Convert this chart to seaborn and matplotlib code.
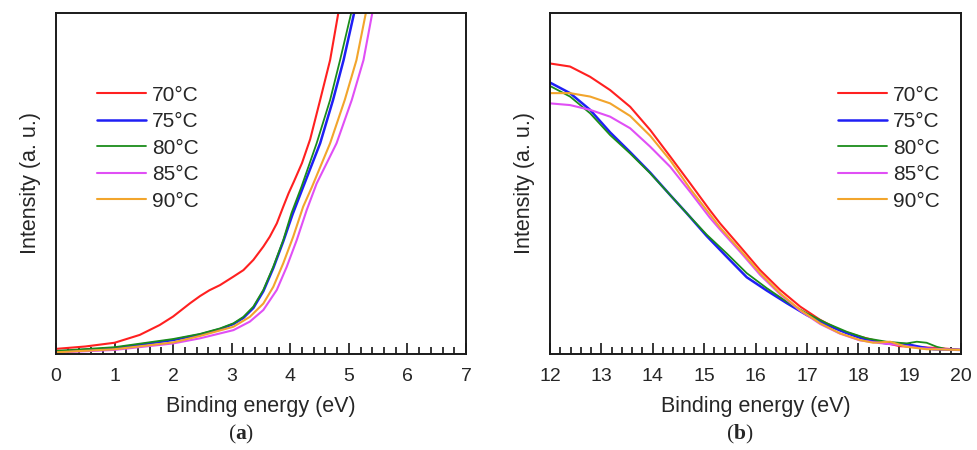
import numpy as np
import pandas as pd
import matplotlib
matplotlib.use("Agg")
import matplotlib.pyplot as plt
import seaborn as sns
from matplotlib.ticker import MultipleLocator
from matplotlib.lines import Line2D

# ---------------- data ----------------
labels = ["70°C", "75°C", "80°C", "85°C", "90°C"]
colors = ["#ff2020", "#1f1ff5", "#1a8c1a", "#e04ff5", "#f2a52c"]

# Panel (a): valence band edge, 0-7 eV
a_x_70 = [0.0, 0.5, 1.0, 1.43, 1.77, 2.0, 2.29, 2.46, 2.62, 2.80, 3.03, 3.20, 3.37, 3.54, 3.65, 3.77, 3.88, 3.97, 4.06, 4.20, 4.34, 4.51, 4.68, 4.82, 4.86]
a_y_70 = [0.015, 0.022, 0.033, 0.056, 0.085, 0.110, 0.149, 0.170, 0.187, 0.202, 0.227, 0.246, 0.276, 0.315, 0.344, 0.383, 0.432, 0.471, 0.505, 0.560, 0.630, 0.745, 0.862, 1.000, 1.03]
a_x_75 = [0.0, 1.0, 2.0, 2.46, 2.80, 3.03, 3.20, 3.37, 3.54, 3.71, 3.88, 4.04, 4.22, 4.51, 4.73, 4.91, 5.09, 5.13]
a_y_75 = [0.007, 0.017, 0.041, 0.057, 0.073, 0.088, 0.106, 0.135, 0.184, 0.252, 0.330, 0.410, 0.490, 0.618, 0.745, 0.862, 1.000, 1.03]
a_x_80 = [0.0, 1.0, 2.0, 2.46, 2.80, 3.03, 3.20, 3.37, 3.54, 3.71, 3.88, 4.02, 4.19, 4.45, 4.68, 4.85, 5.04, 5.08]
a_y_80 = [0.009, 0.020, 0.044, 0.059, 0.075, 0.090, 0.109, 0.139, 0.188, 0.256, 0.334, 0.413, 0.490, 0.618, 0.745, 0.862, 1.000, 1.03]
a_x_85 = [0.0, 1.0, 2.0, 2.46, 3.03, 3.31, 3.54, 3.77, 3.94, 4.11, 4.28, 4.45, 4.79, 5.05, 5.25, 5.40, 5.44]
a_y_85 = [0.004, 0.012, 0.031, 0.046, 0.070, 0.095, 0.129, 0.188, 0.256, 0.334, 0.422, 0.500, 0.618, 0.745, 0.862, 1.000, 1.03]
a_x_90 = [0.0, 1.0, 2.0, 2.46, 3.03, 3.31, 3.54, 3.71, 3.88, 4.05, 4.22, 4.37, 4.68, 4.93, 5.13, 5.29, 5.33]
a_y_90 = [0.005, 0.014, 0.034, 0.053, 0.080, 0.109, 0.148, 0.197, 0.266, 0.344, 0.432, 0.490, 0.618, 0.745, 0.862, 1.000, 1.03]

# Panel (b): secondary electron cutoff region, 12-20 eV
b_x_70 = [12.0, 12.39, 12.78, 13.17, 13.56, 13.95, 14.34, 14.73, 15.11, 15.31, 15.70, 16.09, 16.48, 16.87, 17.26, 17.64, 18.03, 18.42, 18.81, 19.20, 19.59, 20.0]
b_y_70 = [0.852, 0.843, 0.813, 0.774, 0.725, 0.657, 0.579, 0.500, 0.422, 0.383, 0.315, 0.246, 0.188, 0.139, 0.100, 0.070, 0.051, 0.036, 0.023, 0.020, 0.017, 0.012]
b_x_75 = [12.0, 12.39, 12.78, 13.17, 13.56, 13.95, 14.34, 14.66, 15.05, 15.44, 15.83, 16.22, 16.61, 17.00, 17.39, 17.78, 18.16, 18.55, 18.94, 19.20, 19.46, 20.0]
b_y_75 = [0.796, 0.765, 0.716, 0.650, 0.592, 0.532, 0.466, 0.413, 0.346, 0.285, 0.225, 0.186, 0.149, 0.114, 0.085, 0.061, 0.041, 0.031, 0.029, 0.021, 0.014, 0.012]
b_x_80 = [12.0, 12.39, 12.78, 13.17, 13.56, 13.95, 14.34, 14.66, 15.05, 15.44, 15.83, 16.22, 16.61, 17.00, 17.39, 17.78, 18.16, 18.55, 18.94, 19.14, 19.33, 19.53, 19.72, 20.0]
b_y_80 = [0.786, 0.755, 0.706, 0.642, 0.588, 0.530, 0.466, 0.413, 0.350, 0.295, 0.237, 0.193, 0.153, 0.119, 0.090, 0.065, 0.046, 0.036, 0.031, 0.036, 0.033, 0.021, 0.014, 0.012]
b_x_85 = [12.0, 12.39, 12.78, 13.17, 13.56, 13.95, 14.34, 14.73, 15.11, 15.31, 15.70, 16.09, 16.48, 16.87, 17.26, 17.64, 18.03, 18.42, 18.81, 19.20, 20.0]
b_y_85 = [0.735, 0.730, 0.716, 0.696, 0.662, 0.608, 0.549, 0.475, 0.400, 0.365, 0.300, 0.232, 0.175, 0.127, 0.088, 0.060, 0.040, 0.032, 0.026, 0.017, 0.012]
b_x_90 = [12.0, 12.39, 12.78, 13.17, 13.56, 13.95, 14.34, 14.73, 15.11, 15.31, 15.70, 16.09, 16.48, 16.87, 17.26, 17.64, 18.03, 18.29, 18.62, 18.94, 19.33, 20.0]
b_y_90 = [0.765, 0.765, 0.755, 0.735, 0.698, 0.640, 0.568, 0.484, 0.410, 0.371, 0.305, 0.237, 0.178, 0.129, 0.090, 0.061, 0.041, 0.033, 0.036, 0.021, 0.014, 0.012]

a_xticks = [0, 1, 2, 3, 4, 5, 6, 7]
b_xticks = [12, 13, 14, 15, 16, 17, 18, 19, 20]
xlabel = "Binding energy (eV)"
ylabel = "Intensity (a. u.)"

# ---------------- build long-form tables ----------------
def frame(xs, ys):
    rows = []
    for lab, x, y in zip(labels, xs, ys):
        rows.append(pd.DataFrame({"E": x, "I": y, "T": lab}))
    return pd.concat(rows, ignore_index=True)

df_a = frame([a_x_70, a_x_75, a_x_80, a_x_85, a_x_90], [a_y_70, a_y_75, a_y_80, a_y_85, a_y_90])
df_b = frame([b_x_70, b_x_75, b_x_80, b_x_85, b_x_90], [b_y_70, b_y_75, b_y_80, b_y_85, b_y_90])

# ---------------- style ----------------
sns.set_theme(style="white")
plt.rcParams["font.family"] = ["Liberation Sans", "DejaVu Sans"]
plt.rcParams["mathtext.fontset"] = "custom"
plt.rcParams["mathtext.rm"] = "Liberation Serif"
plt.rcParams["mathtext.bf"] = "Liberation Serif:bold"

palette = dict(zip(labels, colors))
widths = {"70°C": 1.5, "75°C": 1.8, "80°C": 1.3, "85°C": 1.5, "90°C": 1.5}

fig = plt.figure(figsize=(9.78, 4.5), dpi=100)
ax_a = fig.add_axes([56 / 978, 96 / 450, 410 / 978, 341 / 450])
ax_b = fig.add_axes([550 / 978, 96 / 450, 411 / 978, 341 / 450])

def style_axis(ax, df, xlim, xticks, leg_x):
    for lab in labels:
        sub = df[df["T"] == lab]
        sns.lineplot(data=sub, x="E", y="I", color=palette[lab], lw=widths[lab],
                     sort=False, estimator=None, ax=ax, legend=False)
    ax.set_xlim(*xlim)
    ax.set_ylim(0, 1)
    ax.set_xticks(xticks)
    ax.xaxis.set_minor_locator(MultipleLocator(0.2))
    ax.set_yticks([])
    ax.tick_params(axis="x", which="major", direction="in", length=8, width=1.1,
                   color="black", labelsize=14, pad=10, bottom=True)
    ax.tick_params(axis="x", which="minor", direction="in", length=5, width=1.1,
                   color="black", bottom=True)
    for s in ax.spines.values():
        s.set_visible(True)
        s.set_color("#1a1a1a")
        s.set_linewidth(1.4)
    ax.set_xlabel(xlabel, fontsize=15.5, labelpad=8)
    ax.set_ylabel(ylabel, fontsize=15.5, labelpad=11)
    handles = [Line2D([], [], color=palette[l], lw=widths[l]) for l in labels]
    ax.legend(handles, labels, loc="upper left", bbox_to_anchor=(leg_x, 0.787),
              frameon=False, fontsize=15, handlelength=2.35, handletextpad=0.3,
              labelspacing=0.36, borderpad=0, borderaxespad=0)

style_axis(ax_a, df_a, (0, 7), a_xticks, 0.10)
style_axis(ax_b, df_b, (12, 20), b_xticks, 0.70)

fig.text(241 / 978, 0.034, r"$\mathrm{(}\mathbf{a}\mathrm{)}$", ha="center", va="center", fontsize=15.5)
fig.text(740 / 978, 0.034, r"$\mathrm{(}\mathbf{b}\mathrm{)}$", ha="center", va="center", fontsize=15.5)

fig.savefig("out.png", dpi=100, facecolor="white")
